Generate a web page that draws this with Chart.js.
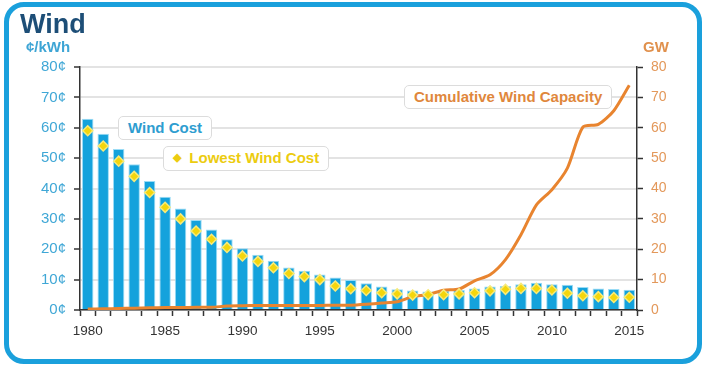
<!DOCTYPE html>
<html>
<head>
<meta charset="utf-8">
<script src="https://cdn.jsdelivr.net/npm/chart.js@4.4.1/dist/chart.umd.min.js"></script>
<style>
  body { margin: 0; background: #fff; font-family: "Liberation Sans", Arial, sans-serif; }
  #wrap { position: relative; width: 718px; height: 379px; overflow: hidden; }
  #frame {
    position: absolute; left: 4px; top: 2px; width: 688px; height: 352px;
    border: 5px solid #1aa0dc; border-radius: 20px;
  }
  canvas { position: absolute; left: 0; top: 0; }
  .lbl { position: absolute; font-weight: bold; white-space: nowrap; }
  .box {
    position: absolute; background: #fff; border: 1px solid #dcdcdc; border-radius: 5px;
    font-weight: bold; font-size: 15px; line-height: 22px; padding: 0 9px; white-space: nowrap;
  }
</style>
</head>
<body>
<div id="wrap">
  <div id="frame"></div>
  <canvas id="windChart" width="718" height="379"></canvas>
  <div class="lbl" style="left:20px;top:9px;font-size:27px;color:#1d4e77;">Wind</div>
  <div class="lbl" style="left:26px;top:38px;font-size:15px;color:#3ea5d5;">¢/kWh</div>
  <div class="lbl" style="left:643px;top:38px;font-size:15px;color:#e0904c;">GW</div>
  <div class="box" style="left:118px;top:116px;color:#2e9dd0;">Wind Cost</div>
  <div class="box" style="left:163px;top:146px;color:#eccc10;"><span style="font-size:11px;position:relative;top:-2px;">◆</span>&nbsp; Lowest Wind Cost</div>
  <div class="box" style="left:404px;top:85px;color:#e0873c;">Cumulative Wind Capacity</div>
</div>
<script>
const years = Array.from({ length: 36 }, (_, i) => String(1980 + i));

const windCost = [
  63, 58, 53, 48, 42.5, 37.3, 33.4, 29.6, 26.5, 23.3,
  20.3, 18.2, 16.2, 14, 12.9, 11.7, 10.7, 9.9, 8.8, 7.7,
  6.8, 6.4, 6.1, 6.3, 6.6, 7.1, 7.7, 7.9, 8.5, 9,
  8.5, 8.3, 7.6, 7.1, 6.9, 6.7
];

const lowestCost = [
  59, 54, 49, 44, 38.7, 33.8, 30, 26, 23.3, 20.6,
  17.8, 16, 13.9, 12, 11, 10, 7.9, 7, 6.4, 5.7,
  5.3, 4.9, 5, 5, 5.3, 5.7, 6.3, 6.8, 7.1, 7.1,
  6.6, 5.5, 4.7, 4.4, 4.1, 4.2
];

const capacityGW = [
  0.3, 0.4, 0.5, 0.6, 0.7, 0.8, 0.8, 0.9, 0.9, 1.3,
  1.4, 1.5, 1.5, 1.5, 1.5, 1.5, 1.6, 1.6, 1.9, 2.3,
  2.7, 4.4, 5.1, 6.5, 6.9, 9.6, 11.6, 16.6, 24.8, 34.6,
  39.6, 46.7, 60.2, 61.1, 65.6, 74
];

const yTicks = [0, 10, 20, 30, 40, 50, 60, 70, 80];

const axisColor = "#333";

new Chart(document.getElementById("windChart"), {
  type: "bar",
  data: {
    labels: years,
    datasets: [
      {
        type: "line",
        label: "Lowest Wind Cost",
        data: lowestCost,
        yAxisID: "y",
        showLine: false,
        pointStyle: "rectRot",
        pointRadius: 5,
        pointBackgroundColor: "#f4d60c",
        pointBorderColor: "#f7ea7a",
        pointBorderWidth: 1.5,
        order: 0
      },
      {
        type: "line",
        label: "Cumulative Wind Capacity",
        data: capacityGW,
        yAxisID: "y2",
        borderColor: "#e8842f",
        borderWidth: 3,
        pointRadius: 0,
        tension: 0.25,
        order: 1
      },
      {
        label: "Wind Cost",
        data: windCost,
        yAxisID: "y",
        backgroundColor: "#14a2dc",
        borderColor: "#9adcf6",
        borderWidth: 1,
        categoryPercentage: 1,
        barPercentage: 0.74,
        order: 2
      }
    ]
  },
  options: {
    responsive: false,
    animation: false,
    layout: { padding: { top: 67, left: 0, right: 0, bottom: 0 } },
    plugins: {
      legend: { display: false },
      tooltip: { enabled: false }
    },
    scales: {
      x: {
        afterFit: scale => { scale.height = 69; },
        border: { color: axisColor, width: 1.5 },
        grid: {
          offset: true,
          drawOnChartArea: false,
          drawTicks: true,
          tickLength: 6,
          tickColor: axisColor,
          tickWidth: 1.5
        },
        ticks: {
          autoSkip: false,
          maxRotation: 0,
          padding: 7,
          color: "#333",
          font: { family: "Liberation Sans", size: 13.5 },
          callback: function(value) {
            const year = this.getLabelForValue(value);
            return Number(year) % 5 === 0 ? year : "";
          }
        }
      },
      y: {
        position: "left",
        min: 0,
        max: 80,
        afterFit: scale => { scale.width = 80; },
        afterBuildTicks: scale => { scale.ticks = yTicks.map(v => ({ value: v })); },
        border: { color: axisColor, width: 1.5 },
        grid: {
          color: "#e3e3e3",
          lineWidth: 2,
          tickLength: 6,
          tickColor: axisColor,
          tickWidth: 1.5
        },
        ticks: {
          padding: 8,
          color: "#3fa7d6",
          font: { family: "Liberation Sans", size: 15 },
          callback: value => value + "¢"
        }
      },
      y2: {
        position: "right",
        min: 0,
        max: 80,
        afterFit: scale => { scale.width = 81; },
        afterBuildTicks: scale => { scale.ticks = yTicks.map(v => ({ value: v })); },
        border: { color: axisColor, width: 1.5 },
        grid: {
          drawOnChartArea: false,
          tickLength: 6,
          tickColor: axisColor,
          tickWidth: 1.5
        },
        ticks: {
          padding: 8,
          color: "#e3985a",
          font: { family: "Liberation Sans", size: 14 }
        }
      }
    }
  }
});
</script>
</body>
</html>
